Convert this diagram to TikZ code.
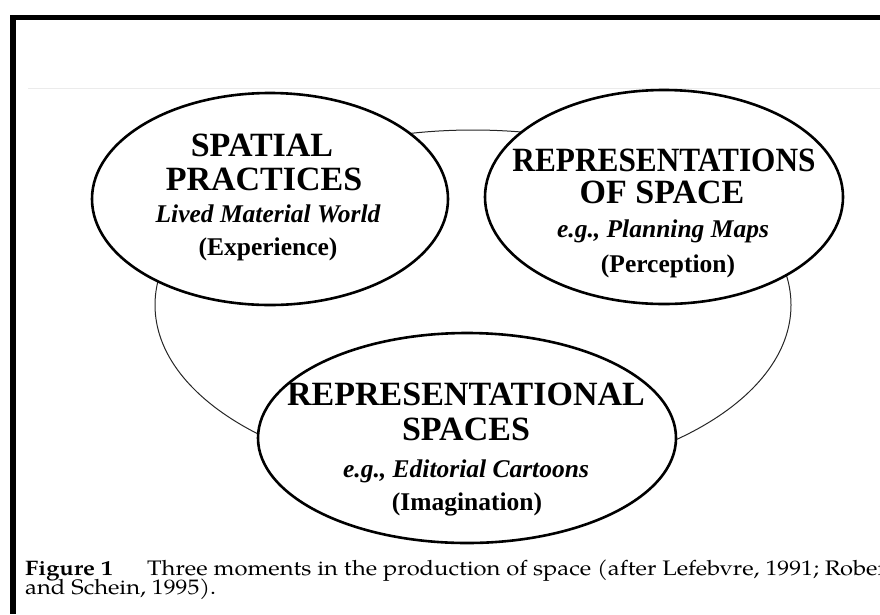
\documentclass[tikz,border=0pt]{standalone}
\usepackage{fontspec}
\usepackage{graphicx}
\setmainfont{Liberation Serif}
\newfontfamily\capfont{texgyrepagella}[Extension=.otf,UprightFont=*-regular,BoldFont=*-bold]
\usetikzlibrary{shapes.geometric,positioning}

\begin{document}
\begin{tikzpicture}[
        x=1pt, y=-1pt,
        moment/.style={
            ellipse, draw, line width=2.6pt, fill=white,
            inner sep=0pt
        },
        headline/.style={
            anchor=base, inner sep=0pt, text height=23pt, text depth=0pt,
            font=\fontsize{34}{36}\selectfont\bfseries
        },
        example/.style={
            anchor=base, inner sep=0pt, text height=17pt, text depth=5pt,
            font=\fontsize{25.5}{28}\selectfont\bfseries\itshape
        },
        mode/.style={
            anchor=base, inner sep=0pt, text height=17pt, text depth=5pt,
            font=\fontsize{25.5}{28}\selectfont\bfseries
        },
        caption/.style={
            anchor=base west, inner sep=0pt, text height=14pt, text depth=3pt,
            font=\capfont\fontsize{21}{23}\selectfont
        }
    ]
    \useasboundingbox (0,0) rectangle (880,614);
    \clip (0,0) rectangle (880,614);

    % page frame and faint rule
    \fill (10,15) rectangle (16,614);
    \fill (10,15) rectangle (880,20);
    \draw[black!8, line width=1pt] (28,88) -- (880,88);

    % ring through the three moments
    \draw[black!85, line width=1pt] (473,305) ellipse [x radius=318pt, y radius=175pt];

    % the three moments
    \node[moment, minimum width=356pt, minimum height=212pt] (practices) at (270,199) {};
    \node[moment, minimum width=358pt, minimum height=214pt] (conceived) at (664,197) {};
    \node[moment, minimum width=418pt, minimum height=210pt] (imagined) at (467,438) {};

    % Spatial practices
    \node[headline] (sp1) at (262,156) {SPATIAL};
    \node[headline] (sp2) at (264,190) {PRACTICES};
    \node[example] (spex) at (268,222) {Lived Material World};
    \node[mode] (spmode) at (268,255) {(Experience)};

    % Representations of space
    \node[headline] (rs1) at (664,171) {\scalebox{0.92}[1]{REPRESENTATIONS}};
    \node[headline] (rs2) at (662,203) {OF SPACE};
    \node[example] (rsex) at (663,237) {e.g., Planning Maps};
    \node[mode] (rsmode) at (668,272) {(Perception)};

    % Representational spaces
    \node[headline] (rp1) at (466,405) {REPRESENTATIONAL};
    \node[headline] (rp2) at (466,440) {SPACES};
    \node[example] (rpex) at (466,477) {e.g., Editorial Cartoons};
    \node[mode] (rpmode) at (467,510) {(Imagination)};

    % caption
    \node[caption] (fig) at (25,575) {\scalebox{1.13}[1]{\textbf{Figure 1}}};
    \node[caption] (figtext) at (147,575) {\scalebox{1.13}[1]{Three moments in the production of space (after Lefebvre, 1991; Roberts}};
    \node[caption] (figtext2) at (25,594) {\scalebox{1.13}[1]{and Schein, 1995).}};
\end{tikzpicture}
\end{document}
